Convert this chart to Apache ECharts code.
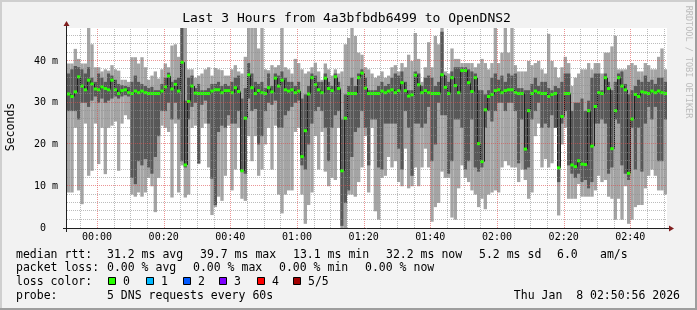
<!DOCTYPE html>
<html><head><meta charset="utf-8">
<script src="https://cdn.jsdelivr.net/npm/echarts@6/dist/echarts.min.js"></script>
<style>html,body{margin:0;padding:0;background:#f2f2f2}#c{width:697px;height:310px}</style>
</head><body><div id="c"></div>
<script>
// ---- data (ms); column k covers minute [START + k, START + k + 1) relative to 00:00 ----
const START = -9;           // 23:51
const pMin = [8.5,8.5,24,9,5.7,25,12.5,13.7,25,15.3, 24,12.9,24,24.5,25.5,13.7,25,27,26,8, 7.5,8.5,7.5,8.5,12,10,3.8,12,24.5,24, 23,7.3,25,8.5,15,7.3,
 8,24,24.5,15.3,24,25,14.5,3.1,5,7.5, 6.5,12.5,24.5,9,14,24,7,6.5,22,16, 22,12.5,14,20,24,14,24.5,8,3.5,8, 9,9,23,24,8,1,
 5.5,8.5,22,14,23,13.5,10,12,11.5,24, 0,0,8,8,7.5,11,14.5,22,8.5,24, 4,2,12,12.5,17,14.5,16,11,10,19, 9.5,10,14.5,10,14.5,19,
 14.5,1.5,5,6,13.5,12,12,2.5,2,9.5, 15,12,11,9,8,5,7,4.5,8,8.5, 9,8.5,14.5,16,15,14.5,14.5,11,14,11.5, 7,8.5,22,25,14.5,16.5,
 14.5,15.5,24,3,20,24,7,7,7,10.5, 7.5,7.5,7.5,7.5,9,12.5,11,11.5,7.5,7, 2,7,2,10,1,2,5,5.5,5.5,9.5, 12.5,14,12.5,9,9,8];
const p2 = [28,28,28,26,30,30,29,30.5,31.5,30, 31,30,30.5,31,31.5,31,31.5,31.8,31.5,12, 10.5,16,15,16.5,14.5,13,17,22,28,28, 30,26,30,26,16,14.5,
 26,29,30,15.5,29.5,30.5,25,11.8,5.5,23, 24.5,24,27,25,25,28,13.5,13,31,28, 28.5,20,22,28,30,29.5,30.5,24,24,27, 28,29,30,30.5,15,14,
 20,25,28,29,28,24,16,24,27,28, 0.5,6,9,17,23,24,28,24,15,26, 26,14.5,14,25,25,25,25,19,14,28, 24,12.5,25,25,24,25,
 29,16,20,30,27,27,13,16,26,26, 24,14,16,26,14.5,13.5,14.5,24,28,25.5, 28,30,30,28,30,30,28,15.5,26,14, 14.5,26,28,30,24,25,
 24,27,24,11,25,28,15,13,12,13, 11,11.5,9.5,11,25,25,26,25,13,14.5, 26,25,15,13,11.5,24,14,24,13.5,25, 29,26,29,16,16,26];
const med = [32.1,31.5,32.6,36.2,34.0,33.1,35.4,34.5,33.3,33.1, 33.8,33.4,33.1,35.4,33.1,32.2,32.9,33.1,32.4,32.2, 32.8,32.4,32.8,32.4,32.2,32.2,32.2,32.2,32.8,33.8, 36.4,33.3,34.4,32.8,39.7,15.1,
 30.3,34.0,32.3,32.2,32.2,32.2,32.2,32.8,33.1,33.1, 32.4,32.9,32.9,32.4,33.6,32.7,13.7,26.3,36.7,33.6, 32.2,32.9,32.4,32.2,33.6,32.6,35.9,34.0,35.4,33.1, 32.8,33.1,32.4,32.8,17.1,23.3,
 32.1,36.0,34.3,33.1,32.4,35.9,33.4,32.9,36.2,33.4, 13.7,26.3,32.2,32.2,32.2,36.0,37.1,33.5,32.2,32.2, 32.2,32.2,32.8,32.4,32.8,33.1,32.4,32.9,34.8,32.9, 31.6,31.9,36.6,34.3,32.4,32.9,
 32.4,32.2,32.2,32.2,36.7,33.7,32.2,36.0,34.1,32.4, 37.7,37.7,34.8,32.7,36.0,20.2,15.9,28.3,31.5,32.0, 32.9,33.1,32.4,32.9,33.1,33.1,32.4,32.2,32.2,18.9, 28.1,32.2,32.8,32.4,32.2,32.2,
 31.5,32.0,32.2,14.4,26.7,32.2,32.2,15.1,14.7,16.1, 15.3,15.2,28.1,19.6,29.1,32.4,32.2,36.0,33.4,19.0, 28.1,36.0,34.0,33.1,13.1,26.1,32.0,31.5,32.6,32.4, 32.2,32.8,32.4,32.8,32.4,32.2];
const p4 = [37,38,38.8,38.5,38,37,38.5,36,35,37, 36,35,37,36.5,35.5,34.5,34.2,34,33.8,35, 36.5,35,34.5,34,33.5,33.8,33,33,34.5,36, 37.2,35,35.5,36,47.9,30.5,
 36,36.5,33.5,34.5,33,33,33.5,34.5,34.5,35, 34,34.5,34,35,36,36.5,31,33.5,39.5,37, 35,34.5,35,33.5,37,34,37,36.5,37.5,36, 35,35,34,35,31,32,
 34,37,36.5,35,35,37,35,34,37,35, 26,32,34,36,34,37,38,36,33,33, 33,34,35,34,34.5,36,37,36.5,37.5,35, 33,33,37.5,37,34,36,
 36.5,36,34,35,47,36.5,35,37.5,38.5,38.5, 38.5,38.5,38,37.5,37,33,33,32,33,36, 37,35.5,36.5,35,37,36.5,37,33.5,33.5,33, 33,34.5,36,34,35,35,
 33.5,33,34,33.5,35,37,37,28,30,30, 31,28,30.5,36,37,37,33,37,35,33, 35,37,37.5,34.5,32,33,34,35.5,35,36.5, 35,35.5,34.5,36,36,35];
const pMax = [39.4,39.4,42.9,40.5,39.4,39.4,47.9,44,38.5,38.5, 37.5,38,37.7,39,38,37.7,35.5,35.5,35,40.9, 40.9,39.4,40.9,38.5,35.5,36.5,37.5,35.8,38,39.4, 38.5,43.7,44,41,47.9,47.9,
 38,38,36,36.5,37,38,38.5,36.5,38.3,38, 37.8,36.5,36.5,38,39,37.5,37,41,47.9,47.9, 47.9,43,47.9,38,37.8,39,38.5,39,47.9,38.5, 38,37,40.5,39.5,38,37,
 37.5,38.5,39.6,37.5,35.5,39.4,38,36.5,38,37, 37.5,44,45.5,47.9,46,42,41.5,38.5,38,37, 36,36.5,37.5,36,36.5,38.5,39,37.5,39.5,38.5, 41.5,40,46.7,40.5,35,38.5,
 44.5,38.5,46,44,47.9,37.5,37,43,40.5,40.5, 39.5,39.5,39.5,39.5,38.5,39.4,40.5,39.5,38,39.5, 47.9,39.5,42,47.9,42,47.9,39,37.5,37.5,37.5, 40,39,39.5,40,38,37,
 46.5,40,38.5,36,38.5,41,39.5,34,36,37, 38,38,39.5,38,39.5,39.5,37,42,42,43.5, 46,38,38,38,39,39.5,39,37.5,37.5,39.5, 39,38,38,41,43,38];

// ---- axes / labels ----
const X_MIN = START, X_MAX = START + med.length;   // 23:51 .. 02:51
const Y_MIN = 0, Y_MAX = 47.9;
const xLabelValues = [0,20,40,60,80,100,120,140,160];
const xLabelTexts  = ['00:00','00:20','00:40','01:00','01:20','01:40','02:00','02:20','02:40'];
const yLabelValues = [0,10,20,30,40];
const yLabelTexts  = ['0  ','10 m','20 m','30 m','40 m'];
const xMinorGrid = [-5,5,10,15,25,30,35,45,50,55,65,70,75,85,90,95,105,110,115,125,130,135,145,150,155,165,170];
const yMinorGrid = [2,4,6,8,12,14,16,18,22,24,26,28,32,34,36,38,42,44,46];

const titleText = 'Last 3 Hours from 4a3bfbdb6499 to OpenDNS2';
const legendRtt  = [['median rtt:',16],['31.2 ms avg',107],['39.7 ms max',200],['13.1 ms min',293],['32.2 ms now',386],['5.2 ms sd',479],['6.0',557],['am/s',600]];
const legendLoss = [['packet loss:',16],['0.00 % avg',107],['0.00 % max',193],['0.00 % min',279],['0.00 % now',365]];
const lossColors = [['0','#26ff00',108],['1','#00b8ff',146],['2','#0059ff',183],['3','#7e00ff',219],['4','#ff0000',257],['5/5','#a10000',293]];
const probeText = '5 DNS requests every 60s';
const dateText = 'Thu Jan  8 02:50:56 2026';

const FONT = '"DejaVu Sans Mono", monospace';
const L = 67, T = 28, R = 667, B = 228;

const chart = echarts.init(document.getElementById('c'), null, {renderer: 'canvas', width: 697, height: 310});

const smokeData = med.map((m, k) => [START + k, pMin[k], p2[k], m, p4[k], pMax[k]]);
const stepData = med.slice(1).map((m, i) => [START + i + 1, med[i], m]);
const medData = med.map((m, k) => [START + k, m]);
const vGridData = xMinorGrid.map(v => [v, 0]).concat(xLabelValues.map(v => [v, 1]));
const hGridData = yMinorGrid.map(v => [v, 0]).concat(yLabelValues.filter(v => v > 0).map(v => [v, 1]));

const GRID_MINOR = 'rgba(143,143,143,0.6)';
const GRID_MAJOR = 'rgba(222,79,79,0.6)';

const snap = v => Math.round(v) + 0.5;

const graphics = [];
// frame shading
graphics.push({type:'rect', shape:{x:0,y:0,width:697,height:2}, style:{fill:'#cfcfcf'}, silent:true});
graphics.push({type:'rect', shape:{x:0,y:0,width:2,height:310}, style:{fill:'#cfcfcf'}, silent:true});
graphics.push({type:'rect', shape:{x:0,y:308,width:697,height:2}, style:{fill:'#9e9e9e'}, silent:true});
graphics.push({type:'rect', shape:{x:695,y:0,width:2,height:310}, style:{fill:'#9e9e9e'}, silent:true});
// title
graphics.push({type:'text', x:346.5, y:19, style:{text:titleText, font:'13px '+FONT, fill:'#000', align:'center', verticalAlign:'middle'}, z:10});
// watermark
graphics.push({type:'text', x:688, y:62, rotation:-Math.PI/2, style:{text:'RRDTOOL / TOBI OETIKER', font:'8.5px '+FONT, fill:'#bdbdbd', align:'center', verticalAlign:'middle'}, z:10});
// y name
graphics.push({type:'text', x:11, y:127, rotation:Math.PI/2, style:{text:'Seconds', font:'11.5px '+FONT, fill:'#000', align:'center', verticalAlign:'middle'}, z:10});
// axes lines and arrows
graphics.push({type:'line', shape:{x1:L-0.5,y1:B+4,x2:L-0.5,y2:T-4}, style:{stroke:'#1f1f1f', lineWidth:1}, z:20});
graphics.push({type:'line', shape:{x1:L-4,y1:B+0.5,x2:R+3,y2:B+0.5}, style:{stroke:'#1f1f1f', lineWidth:1}, z:20});
graphics.push({type:'polygon', shape:{points:[[L-0.5,T-7],[L-3.5,T-2],[L+2.5,T-2]]}, style:{fill:'#801f1f'}, z:20});
graphics.push({type:'polygon', shape:{points:[[R+7,B+0.5],[R+2,B-2.5],[R+2,B+3.5]]}, style:{fill:'#801f1f'}, z:20});
// legend lines
const lineY = [255, 268.5, 282, 296];
legendRtt.forEach(([t,x]) => graphics.push({type:'text', x, y:lineY[0], style:{text:t, font:'11.5px '+FONT, fill:'#000', verticalAlign:'middle'}}));
legendLoss.forEach(([t,x]) => graphics.push({type:'text', x, y:lineY[1], style:{text:t, font:'11.5px '+FONT, fill:'#000', verticalAlign:'middle'}}));
graphics.push({type:'text', x:16, y:lineY[2], style:{text:'loss color:', font:'11.5px '+FONT, fill:'#000', verticalAlign:'middle'}});
lossColors.forEach(([t,c,x]) => {
  graphics.push({type:'rect', shape:{x:x+0.5, y:lineY[2]-4.5, width:7, height:7}, style:{fill:c, stroke:'#000', lineWidth:1}});
  graphics.push({type:'text', x:x+15, y:lineY[2], style:{text:t, font:'11.5px '+FONT, fill:'#000', verticalAlign:'middle'}});
});
graphics.push({type:'text', x:16, y:lineY[3], style:{text:'probe:', font:'11.5px '+FONT, fill:'#000', verticalAlign:'middle'}});
graphics.push({type:'text', x:107, y:lineY[3], style:{text:probeText, font:'11.5px '+FONT, fill:'#000', verticalAlign:'middle'}});
graphics.push({type:'text', x:680, y:lineY[3], style:{text:dateText, font:'11.5px '+FONT, fill:'#000', align:'right', verticalAlign:'middle'}});

chart.setOption({
  animation: false,
  backgroundColor: '#f2f2f2',
  grid: {left: L, top: T, right: 697 - R, bottom: 310 - B, show: true, backgroundColor: '#ffffff', borderWidth: 0},
  xAxis: {type: 'value', min: X_MIN, max: X_MAX, axisLine: {show: false}, axisTick: {show: false}, axisLabel: {show: false}, splitLine: {show: false}},
  yAxis: {type: 'value', min: Y_MIN, max: Y_MAX, interval: 10, axisLine: {show: false}, axisTick: {show: false}, splitLine: {show: false},
          axisLabel: {show: true, margin: 9, fontFamily: FONT, fontSize: 10, color: '#000', showMaxLabel: false,
                      formatter: v => { const i = yLabelValues.indexOf(v); return i >= 0 ? yLabelTexts[i] : ''; }}},
  graphic: graphics,
  series: [
    {type: 'custom', name: 'smoke', z: 2, data: smokeData, clip: true,
     renderItem: (params, api) => {
       const x0 = api.value(0);
       const a = api.coord([x0, api.value(1)]), b = api.coord([x0 + 1, api.value(5)]);
       const c = api.coord([x0, api.value(2)]), d = api.coord([x0 + 1, api.value(4)]);
       return {type: 'group', children: [
         {type: 'rect', shape: {x: a[0], y: b[1], width: b[0] - a[0], height: a[1] - b[1]}, style: {fill: '#a4a4a4'}},
         {type: 'rect', shape: {x: c[0], y: d[1], width: d[0] - c[0], height: c[1] - d[1]}, style: {fill: '#585858'}}
       ]};
     }},
    {type: 'custom', name: 'medianLine', z: 3, data: stepData, clip: true,
     renderItem: (params, api) => {
       const p = api.coord([api.value(0), api.value(1)]), q = api.coord([api.value(0), api.value(2)]);
       const x = snap(p[0]);
       return {type: 'line', shape: {x1: x, y1: p[1], x2: x, y2: q[1]}, style: {stroke: '#202020', lineWidth: 1}};
     }},
    {type: 'custom', name: 'median', z: 4, data: medData, clip: true,
     renderItem: (params, api) => {
       const a = api.coord([api.value(0), api.value(1)]), b = api.coord([api.value(0) + 1, api.value(1)]);
       return {type: 'rect', shape: {x: a[0], y: a[1] - 1.5, width: b[0] - a[0], height: 3}, style: {fill: '#26ff00'}};
     }},
    {type: 'custom', name: 'vgrid', z: 5, data: vGridData, clip: false, silent: true,
     renderItem: (params, api) => {
       const a = api.coord([api.value(0), Y_MIN]), b = api.coord([api.value(0), Y_MAX]);
       const x = snap(a[0]);
       return {type: 'line', shape: {x1: x, y1: a[1], x2: x, y2: b[1]},
               style: {stroke: api.value(1) ? GRID_MAJOR : GRID_MINOR, lineWidth: 1, lineDash: [1, 1]}};
     }},
    {type: 'custom', name: 'hgrid', z: 5, data: hGridData, clip: false, silent: true,
     renderItem: (params, api) => {
       const a = api.coord([X_MIN, api.value(0)]), b = api.coord([X_MAX, api.value(0)]);
       const y = snap(a[1]) - 1;
       return {type: 'line', shape: {x1: a[0], y1: y, x2: b[0], y2: y},
               style: {stroke: api.value(1) ? GRID_MAJOR : GRID_MINOR, lineWidth: 1, lineDash: [1, 1]}};
     }},
    {type: 'custom', name: 'xlabels', z: 6, data: xLabelValues.map((v, i) => [v, i]), clip: false, silent: true,
     renderItem: (params, api) => {
       const a = api.coord([api.value(0), Y_MIN]);
       return {type: 'text', x: a[0], y: a[1] + 9.5,
               style: {text: xLabelTexts[api.value(1)], font: '10px ' + FONT, fill: '#000', align: 'center', verticalAlign: 'middle'}};
     }}
  ]
});
</script></body></html>
